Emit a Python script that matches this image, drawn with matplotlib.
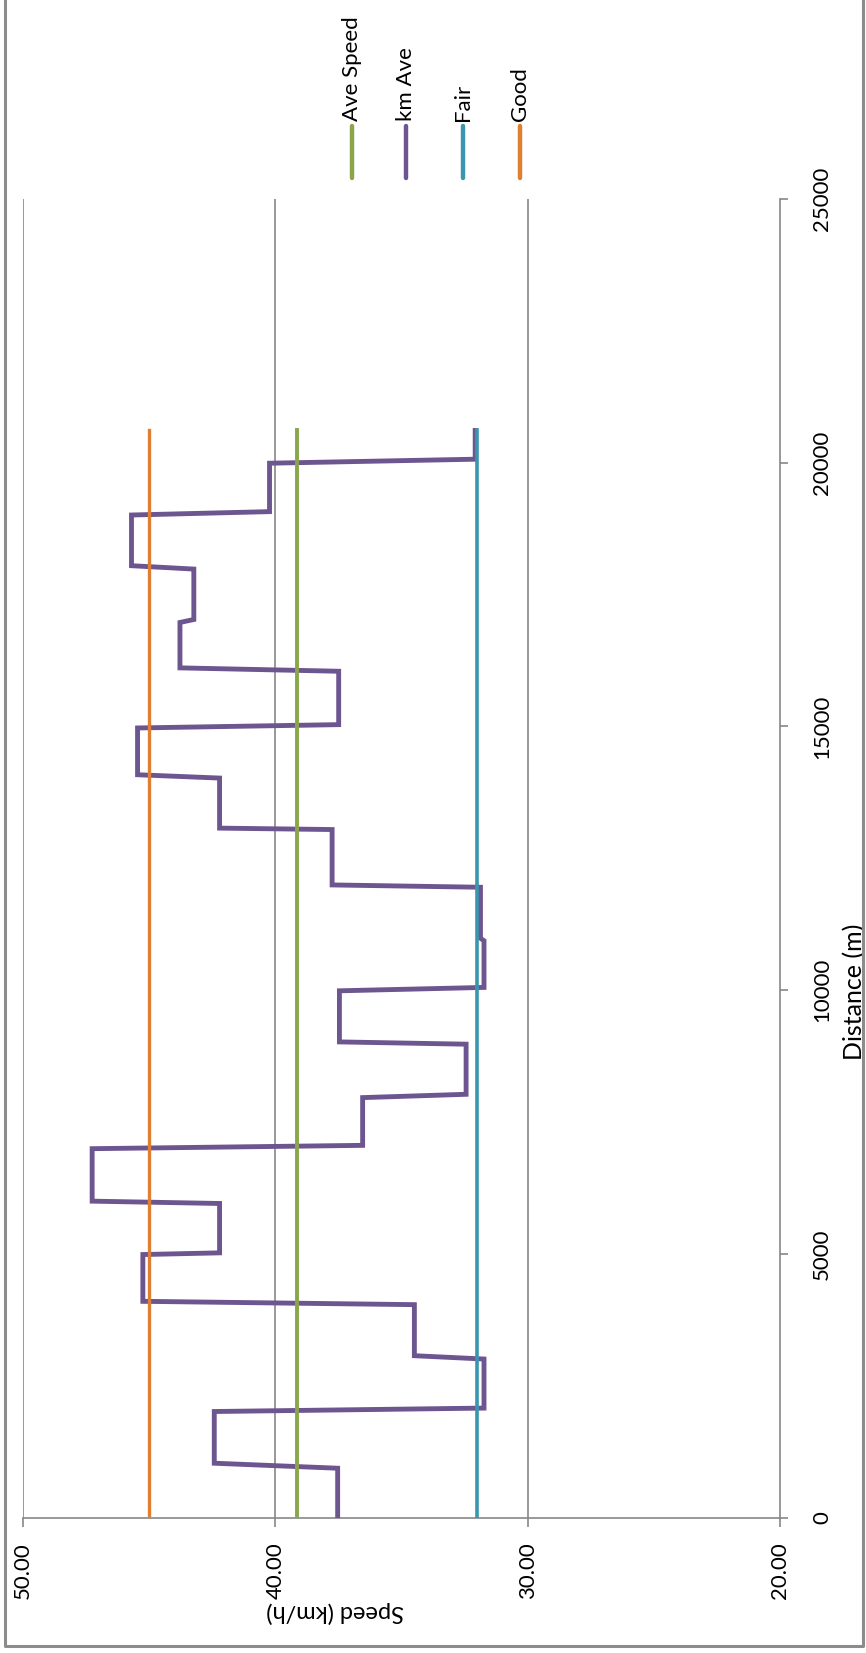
import matplotlib.pyplot as plt
from matplotlib.lines import Line2D

plt.rcParams['font.family'] = ['Lato', 'DejaVu Sans']

# km average speed (distance in m, speed in km/h)
km_dist = [0, 938, 1033, 2013, 2078, 3008, 3071, 4039, 4102, 4989, 5021, 5957,
           6001, 6996, 7059, 7964, 8027, 8977, 9020, 9989, 10053, 10938, 10984,
           11952, 11996, 13046, 13073, 14022, 14085, 14972, 15035, 16047, 16111,
           16972, 17028, 17984, 18048, 19009, 19073, 19991, 20067, 20612]
km_speed = [37.53, 37.53, 42.42, 42.42, 31.73, 31.73, 34.49, 34.49, 45.25, 45.25,
            42.21, 42.21, 47.26, 47.26, 36.54, 36.54, 32.44, 32.44, 37.46, 37.46,
            31.73, 31.73, 31.87, 31.87, 37.75, 37.75, 42.21, 42.21, 45.46, 45.46,
            37.49, 37.49, 43.78, 43.78, 43.23, 43.23, 45.70, 45.70, 40.23, 40.23,
            32.08, 32.08]

ref_dist = [0, 20612]
ave_speed = 39.14
fair_speed = 32.0
good_speed = 45.0

series = ["Ave Speed", "km Ave", "Fair", "Good"]
colors = ["#8AA64B", "#6D5590", "#3A96AF", "#DE7F32"]

speed_ticks = [50, 40, 30, 20]
dist_ticks = [0, 5000, 10000, 15000, 20000, 25000]

W, H = 866, 1653
fig = plt.figure(figsize=(W / 100, H / 100), dpi=100)


def fx(px):
    return px / W


def fy(py):
    return 1 - py / H


# the chart is turned a quarter turn: speed runs across, distance runs up
ax = fig.add_axes([fx(23), fy(1517.7), (780 - 23) / W, (1517.7 - 199) / H])

ax.plot(km_speed, km_dist, color=colors[1], lw=3.5, zorder=3,
        solid_joinstyle='miter')
ax.plot([ave_speed] * 2, ref_dist, color=colors[0], lw=2.8, zorder=4)
ax.plot([fair_speed] * 2, ref_dist, color=colors[2], lw=2.6, zorder=4)
ax.plot([good_speed] * 2, ref_dist, color=colors[3], lw=2.4, zorder=4)

ax.set_xlim(50, 20)
ax.set_ylim(0, 25000)

grid_c = "#878787"
for s in speed_ticks[:-1]:
    ax.axvline(s, color=grid_c, lw=1.2, zorder=1)

for side in ["top", "left"]:
    ax.spines[side].set_visible(False)
ax.spines["right"].set_color(grid_c)
ax.spines["bottom"].set_color(grid_c)
ax.spines["right"].set_linewidth(1.2)
ax.spines["bottom"].set_linewidth(1.2)

ax.set_xticks(speed_ticks)
ax.set_xticklabels(["%.2f" % s for s in speed_ticks], rotation=90, fontsize=16)
ax.yaxis.tick_right()
ax.set_yticks(dist_ticks)
ax.set_yticklabels([str(d) for d in dist_ticks], rotation=90, fontsize=16, va='center')
ax.tick_params(axis='x', length=6.5, width=1.2, color=grid_c, pad=11)
ax.tick_params(axis='y', length=6, width=1.2, color=grid_c, pad=17)

ax.set_xlabel("Speed (km/h)", rotation=180, fontsize=17, ha='center', va='center')
ax.xaxis.set_label_coords((335 - 23) / 757, (1517.7 - 1612) / 1318.7)
ax.yaxis.set_label_position('right')
ax.set_ylabel("Distance (m)", rotation=90, fontsize=18, ha='center', va='center')
ax.yaxis.set_label_coords((855 - 23) / 757, (1517.7 - 992) / 1318.7)

# legend along the top, each entry turned like the rest of the chart
leg_x = [351.7, 406, 462.7, 520]
for name, c, x in zip(series, colors, leg_x):
    fig.add_artist(Line2D([fx(x), fx(x)], [fy(178), fy(126)], color=c, lw=3.2,
                          solid_capstyle='round'))
    fig.text(fx(x), fy(121), name, rotation=90, ha='center', va='bottom', fontsize=16)

# chart area border
bc = "#8C8C8C"
fig.add_artist(Line2D([fx(5), fx(5), fx(863), fx(863)],
                      [fy(0), fy(1646), fy(1646), fy(0)], color=bc, lw=2.2))

fig.savefig("out.png", dpi=100, facecolor="white")
